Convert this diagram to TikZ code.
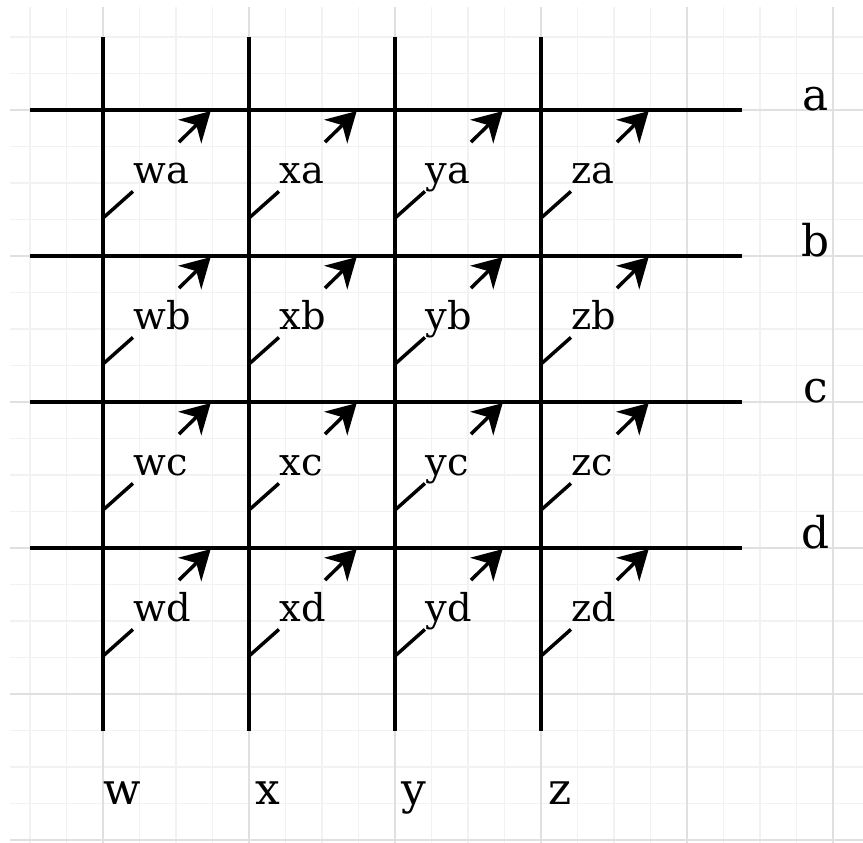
\documentclass[tikz,border=0pt]{standalone}
\usepackage{fontspec}
\setmainfont{DejaVu Serif}
\usetikzlibrary{arrows.meta}

\begin{document}
\begin{tikzpicture}[x=10pt,y=10pt,
    wire/.style={line width=0.95pt},
    cell/.style={anchor=base west,inner sep=0pt,font=\fontsize{10.5}{12}\selectfont},
    tag/.style={anchor=base,inner sep=0pt,font=\fontsize{12}{14}\selectfont}]
    \useasboundingbox (-2.822,-20.082) rectangle (20.822,3.014);

    % background grid
    \draw[black!5,step=1] (-2.55,-20.08) grid (20.82,2.82);
    \draw[black!12,step=4] (-2.55,-20.08) grid (20.82,2.82);

    % column wires
    \foreach \col/\X in {w/0,x/4,y/8,z/12} {
      \coordinate (\col-top) at (\X,2);
      \coordinate (\col-bot) at (\X,-17);
      \draw[wire] (\col-top) -- (\col-bot);
      \node[tag] (\col) at (\X+0.53,-19.04) {\col};
    }

    % row wires
    \foreach \row/\Y in {a/0,b/-4,c/-8,d/-12} {
      \coordinate (\row-left) at (-2,\Y);
      \coordinate (\row-right) at (17.5,\Y);
      \draw[wire] (\row-left) -- (\row-right);
      \node[tag] (\row) at (19.53,\Y) {\row};
    }

    % crossings
    \foreach \col/\X in {w/0,x/4,y/8,z/12}
      \foreach \row/\Y in {a/0,b/-4,c/-8,d/-12} {
        \coordinate (\col\row-1) at (\X,\Y-2.96);
        \coordinate (\col\row-2) at (\X+0.82,\Y-2.23);
        \coordinate (\col\row-3) at (\X+2.08,\Y-0.88);
        \coordinate (\col\row-4) at (\X+2.95,\Y-0.03);
        \draw[wire] (\col\row-1) -- (\col\row-2);
        \draw[wire,-{Stealth[length=8pt,width=9pt,inset=2.5pt]}] (\col\row-3) -- (\col\row-4);
        \node[cell] (\col\row) at (\X+0.82,\Y-2.0) {\col\row};
      }
\end{tikzpicture}
\end{document}
